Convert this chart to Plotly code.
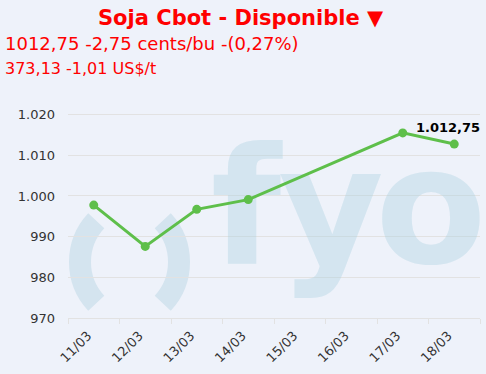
import math
import plotly.graph_objects as go

# ---- data ----
categories = ["11/03", "12/03", "13/03", "14/03", "15/03", "16/03", "17/03", "18/03"]
dates = ["11/03", "12/03", "13/03", "14/03", "17/03", "18/03"]
prices = [997.75, 987.6, 996.7, 999.1, 1015.5, 1012.75]
y_ticks = [970, 980, 990, 1000, 1010, 1020]
title_text = "Soja Cbot - Disponible ▼"
line2_text = "1012,75 -2,75 cents/bu -(0,27%)"
line3_text = "373,13 -1,01 US$/t"
last_label = "1.012,75"
watermark_letters = ["f", "y", "o"]

# ---- layout geometry (pixels) ----
W, H = 486, 374
L, R, T, B = 68, 6, 104, 56
PW, PH = W - L - R, H - T - B

def fx(px):
    return (px - L) / PW

def fy(py):
    return (H - B - py) / PH

BG = "#EEF2FA"
WM = "#D4E4EF"
WM_A = "rgba(173,210,225,0.4)"
GRID = "#E2E2E2"
GREEN = "#5EBF4A"
FONT = "DejaVu Sans"

fig = go.Figure()

# watermark letters (hidden base axes, drawn before data)
WM_SIZE = 162
fig.add_trace(go.Scatter(
    x=[fx(246), fx(331), fx(431)], y=[fy(263 - 0.25 * WM_SIZE)] * 3,
    mode="text", text=watermark_letters, cliponaxis=False,
    textfont=dict(family=FONT, size=WM_SIZE, color=WM_A, weight="bold"),
    xaxis="x", yaxis="y", hoverinfo="skip", showlegend=False,
))

# data line
fig.add_trace(go.Scatter(
    x=dates, y=prices, mode="lines+markers",
    line=dict(color=GREEN, width=3),
    marker=dict(color=GREEN, size=9),
    xaxis="x2", yaxis="y2", hoverinfo="skip", showlegend=False,
))

# parentheses of the watermark logo (arcs below gridlines)
def arc_path(cx, cy, r, a0, a1):
    a0r, a1r = math.radians(a0), math.radians(a1)
    k = 4.0 / 3.0 * math.tan((a1r - a0r) / 4.0) * r
    p0 = (cx + r * math.cos(a0r), cy - r * math.sin(a0r))
    p3 = (cx + r * math.cos(a1r), cy - r * math.sin(a1r))
    t0 = (-math.sin(a0r), -math.cos(a0r))
    t1 = (-math.sin(a1r), -math.cos(a1r))
    p1 = (p0[0] + k * t0[0], p0[1] + k * t0[1])
    p2 = (p3[0] - k * t1[0], p3[1] - k * t1[1])
    pts = [p0, p1, p2, p3]
    c = [f"{fx(x):.5f},{fy(y):.5f}" for x, y in pts]
    return f"M {c[0]} C {c[1]} {c[2]} {c[3]}"

shapes = [
    dict(type="path", xref="paper", yref="paper", layer="below",
         path=arc_path(140.5, 262, 60.5, 137, 223),
         line=dict(color=WM, width=22)),
    dict(type="path", xref="paper", yref="paper", layer="below",
         path=arc_path(118.5, 262, 60.5, -43, 43),
         line=dict(color=WM, width=22)),
]

annotations = [
    dict(text=f"<b>{title_text}</b>", xref="paper", yref="paper",
         x=fx(241), y=fy(18), xanchor="center", yanchor="middle",
         showarrow=False, font=dict(family=FONT, size=21, color="#FF0000")),
    dict(text=line2_text, xref="paper", yref="paper",
         x=fx(3), y=fy(44), xanchor="left", yanchor="middle",
         showarrow=False, font=dict(family=FONT, size=18, color="#FF0000")),
    dict(text=line3_text, xref="paper", yref="paper",
         x=fx(3), y=fy(68), xanchor="left", yanchor="middle",
         showarrow=False, font=dict(family=FONT, size=16, color="#FF0000")),
    dict(text=f"<b>{last_label}</b>", xref="x2", yref="y2",
         x=dates[-1], y=prices[-1], xanchor="center", yanchor="bottom",
         xshift=-6, yshift=7, showarrow=False,
         font=dict(family=FONT, size=13, color="#000000")),
]

fig.update_layout(
    width=W, height=H,
    margin=dict(l=L, r=R, t=T, b=B, pad=0),
    paper_bgcolor=BG, plot_bgcolor=BG,
    separators=",.",
    showlegend=False,
    shapes=shapes,
    annotations=annotations,
    xaxis=dict(range=[0, 1], visible=False, fixedrange=True),
    yaxis=dict(range=[0, 1], visible=False, fixedrange=True),
    xaxis2=dict(
        overlaying="x", type="category",
        categoryorder="array", categoryarray=categories,
        tickmode="array", tickvals=categories, ticktext=categories,
        range=[-0.5, len(categories) - 0.5],
        tickson="boundaries", ticks="outside", ticklen=5, tickcolor=GRID,
        showline=True, linecolor=GRID, linewidth=1,
        showgrid=False, tickangle=-45,
        ticklabelshift=-6, ticklabelstandoff=4,
        tickfont=dict(family=FONT, size=13, color="#333333"),
        fixedrange=True,
    ),
    yaxis2=dict(
        overlaying="y", side="left",
        range=[970, 1022.6],
        tickmode="array", tickvals=y_ticks, tickformat=",",
        showgrid=True, gridcolor=GRID, gridwidth=1,
        zeroline=False, showline=False, ticks="",
        ticklabelstandoff=12,
        tickfont=dict(family=FONT, size=13, color="#333333"),
        fixedrange=True,
    ),
)

fig.write_html("out.html")
